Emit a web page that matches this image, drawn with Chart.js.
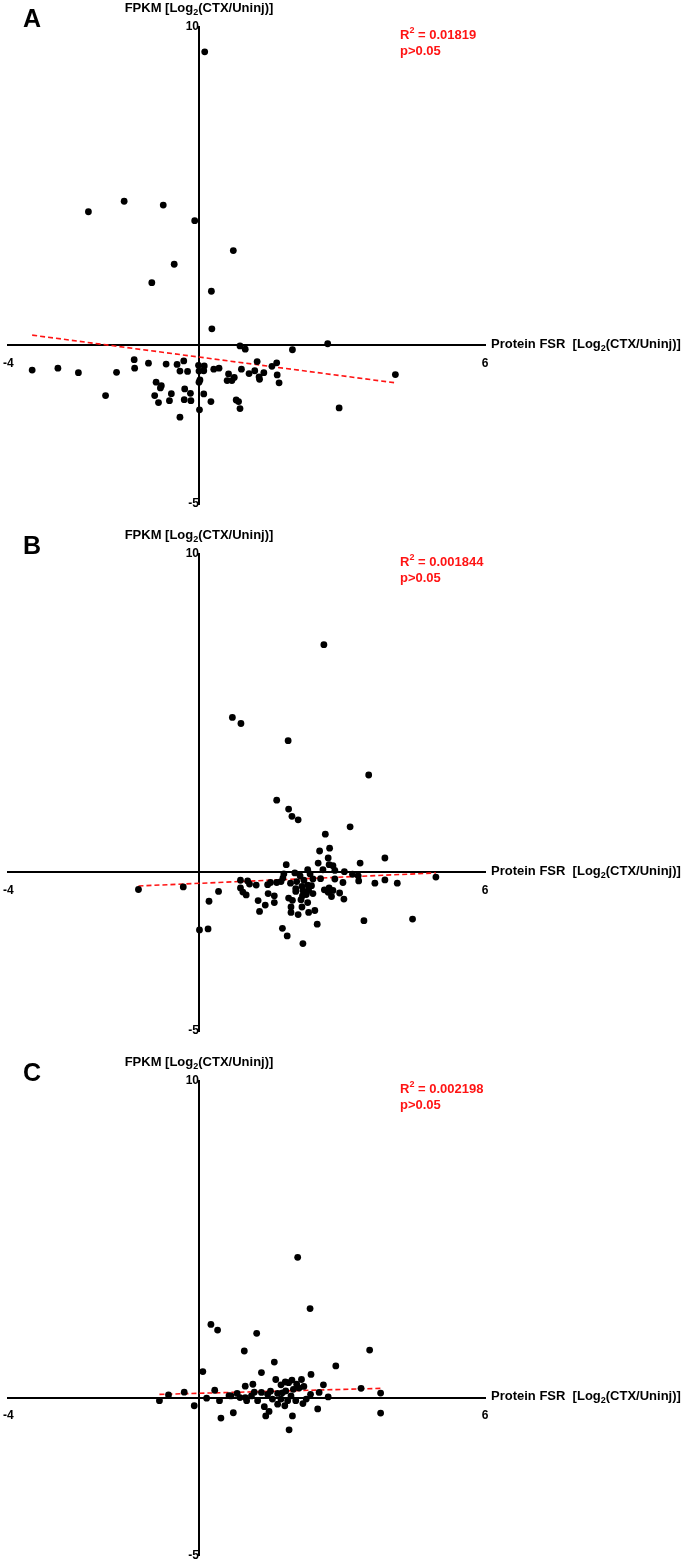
<!DOCTYPE html>
<html>
<head>
<meta charset="utf-8">
<title>Protein FSR vs FPKM</title>
<script src="https://cdn.jsdelivr.net/npm/chart.js@4.4.1/dist/chart.umd.min.js"></script>
<style>
  html, body { margin: 0; padding: 0; background: #fff; }
  .panel { position: relative; width: 685px; }
</style>
</head>
<body>
<div class="panel" style="height:527px"><canvas id="chartA"></canvas></div>
<div class="panel" style="height:527px"><canvas id="chartB"></canvas></div>
<div class="panel" style="height:512px"><canvas id="chartC"></canvas></div>
<script>
// axis ticks shown on every panel
const xTicks = [-4, 6];
const yTicks = [10, -5];

// panel A : protein FSR (x) vs FPKM (y), log2(CTX/Uninj)
const aX = [0.12, -2.32, -1.57, -0.75, -0.09, 0.72, -0.52, -0.99, 0.26, 0.27, 0.86, 0.97, 1.96, 2.70, 4.12, 2.94,
  -3.50, -2.96, -2.53, -1.73, -1.96, -1.36, -1.35, -1.06, -0.69, -0.46, -0.32, -0.40, -0.24, -0.01, 0.11, 0.10,
  0.00, 0.31, 0.42, 0.02, 0.00, 0.62, 0.59, 0.69, 0.74, 0.89, 1.05, 1.17, 1.22, 1.36, 1.26, 1.27, 1.53, 1.63,
  1.64, 1.68, -0.90, -0.79, -0.81, -0.93, -0.85, -0.58, -0.62, -0.30, -0.18, -0.31, -0.17, 0.10, 0.25, 0.01,
  -0.40, 0.78, 0.83, 0.86];
const aY = [9.22, 4.19, 4.52, 4.40, 3.91, 2.97, 2.54, 1.96, 1.69, 0.51, -0.03, -0.13, -0.15, 0.04, -0.93, -1.98,
  -0.79, -0.73, -0.87, -0.86, -1.59, -0.46, -0.73, -0.57, -0.60, -0.61, -0.50, -0.82, -0.83, -0.64, -0.66, -0.81,
  -0.82, -0.76, -0.73, -1.10, -1.17, -0.91, -1.12, -1.12, -1.02, -0.76, -0.90, -0.81, -0.52, -0.87, -1.00, -1.08, -0.67, -0.56,
  -0.94, -1.19, -1.17, -1.28, -1.35, -1.59, -1.81, -1.53, -1.75, -1.38, -1.52, -1.72, -1.75, -1.54, -1.78, -2.04,
  -2.27, -1.73, -1.78, -2.00];
const aFitX = [-3.50, 4.12];
const aFitY = [0.31, -1.19];

// panel B
const bX = [2.62, 0.70, 0.88, 1.87, 3.56, 1.63, 1.88, 1.95, 2.08,
  3.17, 2.65, 2.74, 2.53, 2.71, 2.50, 2.73, 2.81, 3.90, 3.38, 1.83, 2.28, 2.60, 2.85, 3.05, 1.78,
  2.01, 2.12, 2.33, 3.22, 3.34, 4.97, 1.76, 1.92, 1.72, 1.63, 1.50, 2.05, 2.20, 2.39, 2.55, 2.85,
  3.02, 3.35, 3.69, 3.90, 4.16, 0.87, 1.02, 1.06, 1.20, 1.44, 0.87, 0.92, 0.99, 1.45, 1.58, 2.03,
  2.03, 2.16, 2.28, 2.36, 2.18, 2.30, 2.39, 2.25, 2.17, 2.63, 2.73, 2.71, 2.81, 2.78, 2.95, 3.04,
  1.88, 1.96, 2.14, 2.28, 1.58, 1.24, 1.39, 1.27, 1.93, 1.93, 2.08, 2.16, 2.30, 2.43, -1.27, -0.33,
  0.41, 0.21, 0.01, 0.19, 2.48, 3.46, 4.48, 1.75, 1.85, 2.18];
const bY = [7.15, 4.86, 4.67, 4.13, 3.05, 2.26, 1.98, 1.75, 1.64,
  1.42, 1.19, 0.75, 0.66, 0.44, 0.28, 0.23, 0.20, 0.44, 0.28, 0.23, 0.07, 0.07, 0.05, 0.01, -0.06,
  -0.03, -0.12, -0.06, -0.07, -0.12, -0.16, -0.19, -0.35, -0.30, -0.33, -0.33, -0.30, -0.26, -0.22, -0.21, -0.22,
  -0.33, -0.28, -0.35, -0.25, -0.35, -0.26, -0.28, -0.38, -0.41, -0.40, -0.50, -0.63, -0.72, -0.68, -0.75, -0.52,
  -0.61, -0.45, -0.41, -0.43, -0.58, -0.58, -0.68, -0.71, -0.75, -0.56, -0.50, -0.64, -0.58, -0.77, -0.66, -0.85,
  -0.82, -0.89, -0.87, -0.96, -0.96, -0.90, -1.04, -1.24, -1.10, -1.27, -1.34, -1.10, -1.27, -1.21, -0.55, -0.47,
  -0.61, -0.92, -1.82, -1.79, -1.64, -1.53, -1.48, -1.77, -2.01, -2.25];
const bFitX = [-1.27, 4.97];
const bFitY = [-0.44, -0.03];

// panel C
const cX = [2.07, 2.33, 0.25, 0.39, 1.21, 0.95, 3.58, 1.58, 2.87, 0.08, 1.31, 2.35,
  1.61, 1.81, 1.95, 2.15, 2.05, 1.13, 0.97, 2.61, 3.40, 3.81, -0.31, -0.64, -0.83, -0.10, 0.16, 0.33,
  0.43, 0.63, 0.46, 0.72, 0.80, 1.00, 1.16, 1.23, 1.37, 1.40, 1.47, 1.31, 1.44, 1.54, 1.65, 1.72,
  1.82, 1.86, 1.93, 1.80, 1.98, 2.03, 2.20, 2.18, 2.34, 2.49, 2.52, 2.71, 1.96, 1.89, 3.81, 0.97,
  0.67, 1.72, 1.88, 1.65, 2.10, 1.10, 1.50, 2.25, 0.86, 1.75];
const cY = [4.43, 2.81, 2.31, 2.13, 2.03, 1.47, 1.50, 1.12, 1.00, 0.82, 0.79, 0.73,
  0.57, 0.49, 0.55, 0.57, 0.42, 0.42, 0.36, 0.40, 0.29, 0.14, 0.17, 0.08, -0.10, -0.26, -0.02, 0.23,
  -0.10, 0.06, -0.65, -0.48, 0.13, -0.10, 0.17, -0.10, -0.29, -0.58, -0.44, 0.16, 0.10, -0.05, 0.13, -0.05,
  0.21, -0.10, 0.05, -0.26, 0.26, -0.10, 0.35, -0.19, 0.10, -0.36, 0.16, 0.02, -0.58, -1.02, -0.49, 0.00,
  0.05, 0.40, 0.47, -0.21, 0.30, 0.05, 0.20, -0.05, 0.00, 0.15];
const cFitX = [-0.83, 3.81];
const cFitY = [0.10, 0.29];

const FONT = '"Liberation Sans Narrow", "Arial Narrow", "Liberation Sans", Arial, sans-serif';
const RED = '#ff1414';

function pairs(xs, ys) {
  return xs.map((x, i) => ({ x: x, y: ys[i] }));
}

// text with sub/superscript pieces: [text, 'sub'|'sup'|undefined]
function drawRich(ctx, parts, x, y, align, color, size) {
  const big = 'bold ' + size + 'px ' + FONT;
  const small = 'bold ' + Math.round(size * 0.68) + 'px ' + FONT;
  ctx.fillStyle = color;
  ctx.textBaseline = 'middle';
  ctx.textAlign = 'left';
  let w = 0;
  parts.forEach(p => { ctx.font = p[1] ? small : big; w += ctx.measureText(p[0]).width; });
  let cx = align === 'center' ? x - w / 2 : x;
  parts.forEach(p => {
    ctx.font = p[1] ? small : big;
    let dy = 0;
    if (p[1] === 'sub') dy = size * 0.32;
    if (p[1] === 'sup') dy = -size * 0.36;
    ctx.fillText(p[0], cx, y + dy);
    cx += ctx.measureText(p[0]).width;
  });
}

const panelText = {
  id: 'panelText',
  afterDraw(chart, args, opts) {
    const ctx = chart.ctx;
    const x0 = chart.scales.x.getPixelForValue(0);
    const y0 = chart.scales.y.getPixelForValue(0);
    const top = chart.chartArea.top;
    ctx.save();
    ctx.fillStyle = '#000';
    ctx.font = 'bold 25px "Liberation Sans", Arial, sans-serif';
    ctx.textBaseline = 'alphabetic';
    ctx.textAlign = 'left';
    ctx.fillText(opts.letter, 23, top);

    drawRich(ctx, [['FPKM [Log'], ['2', 'sub'], ['(CTX/Uninj)]']], x0, top - 19, 'center', '#000', 13);
    drawRich(ctx, [['Protein FSR  [Log'], ['2', 'sub'], ['(CTX/Uninj)]']], 491, y0 - 1, 'left', '#000', 13);
    drawRich(ctx, [['R'], ['2', 'sup'], [' = ' + opts.r2]], 400, top + 8, 'left', RED, 13);
    drawRich(ctx, [['p>0.05']], 400, top + 24, 'left', RED, 13);
    ctx.restore();
  }
};

function makePanel(id, letter, r2, xs, ys, fx, fy, bottomPad) {
  new Chart(id, {
    type: 'scatter',
    data: {
      datasets: [{
        data: pairs(xs, ys),
        backgroundColor: '#000',
        borderWidth: 0,
        pointRadius: 3.4
      }, {
        type: 'line',
        data: pairs(fx, fy),
        borderColor: RED,
        borderWidth: 1.6,
        borderDash: [5, 3],
        pointRadius: 0,
        fill: false
      }]
    },
    options: {
      responsive: true,
      maintainAspectRatio: false,
      animation: false,
      events: [],
      layout: { padding: { left: 6, right: 200, top: 27, bottom: bottomPad } },
      scales: {
        x: {
          type: 'linear',
          min: -4,
          max: 6,
          position: { y: 0 },
          afterBuildTicks: s => { s.ticks = xTicks.map(v => ({ value: v })); },
          grid: { display: false, drawTicks: true, tickLength: 8 },
          border: { display: true, color: '#000', width: 2 },
          ticks: { color: '#000', padding: 3, maxRotation: 0, autoSkip: false,
                   font: { family: FONT, size: 12, weight: 'bold' } }
        },
        y: {
          type: 'linear',
          min: -5,
          max: 10,
          position: { x: 0 },
          afterBuildTicks: s => { s.ticks = yTicks.map(v => ({ value: v })); },
          grid: { display: false, drawTicks: false },
          border: { display: true, color: '#000', width: 2 },
          ticks: { color: '#000', padding: 3, autoSkip: false,
                   font: { family: FONT, size: 12, weight: 'bold' } }
        }
      },
      plugins: {
        legend: { display: false },
        tooltip: { enabled: false },
        panelText: { letter: letter, r2: r2 }
      }
    },
    plugins: [panelText]
  });
}

makePanel('chartA', 'A', '0.01819', aX, aY, aFitX, aFitY, 23);
makePanel('chartB', 'B', '0.001844', bX, bY, bFitX, bFitY, 23);
makePanel('chartC', 'C', '0.002198', cX, cY, cFitX, cFitY, 8);
</script>
</body>
</html>
